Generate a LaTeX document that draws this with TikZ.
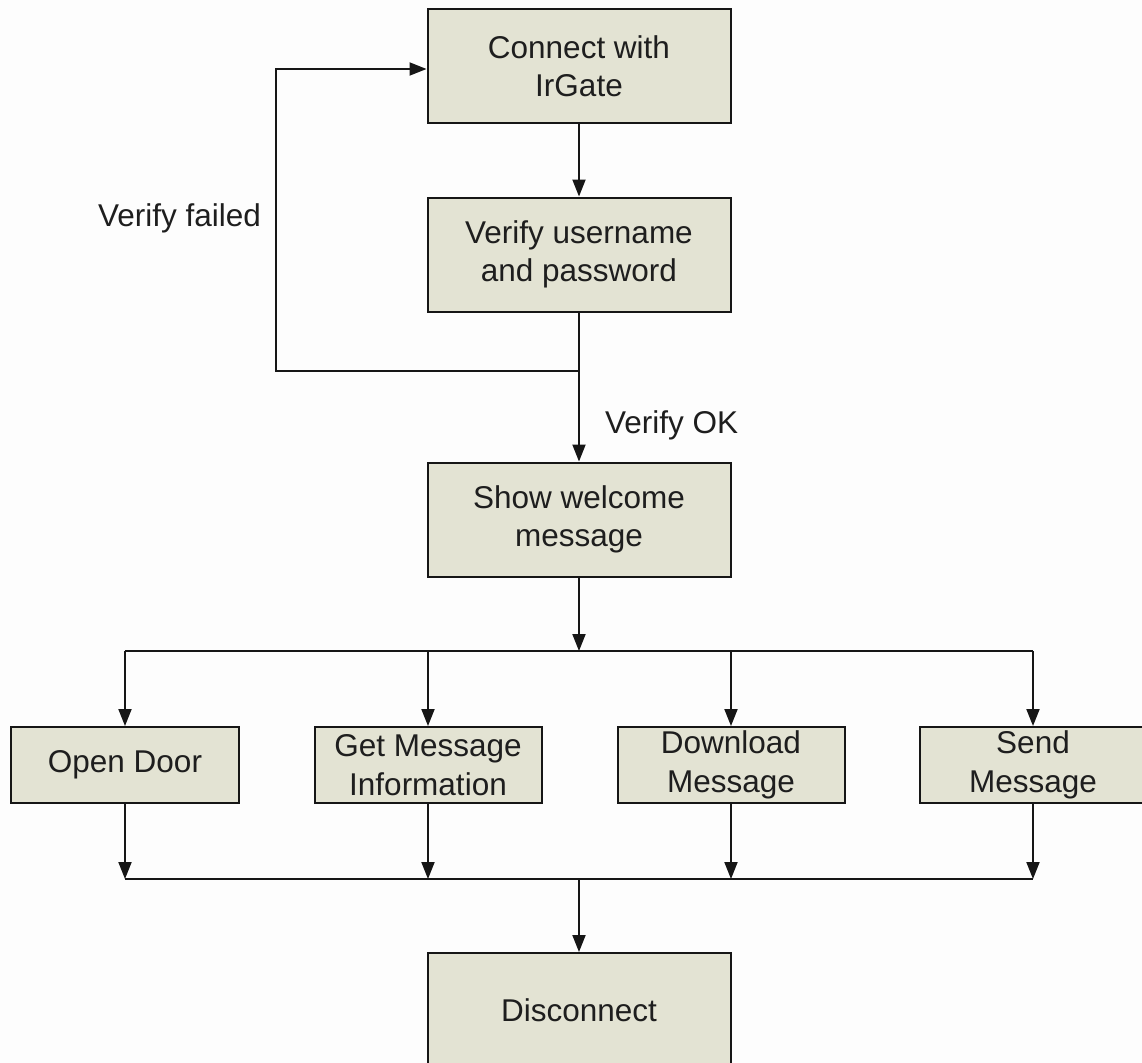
\documentclass[tikz,border=0pt]{standalone}
\usepackage{fontspec}
\setmainfont{Liberation Sans}
\usetikzlibrary{arrows.meta}

\definecolor{boxfill}{RGB}{227,227,211}
\definecolor{linecol}{RGB}{22,22,22}
\definecolor{textcol}{RGB}{30,30,30}
\definecolor{paper}{RGB}{253,253,253}

\tikzset{
  every node/.style={text=textcol, font=\fontsize{31.5bp}{38.5bp}\selectfont},
  stepbox/.style={draw=linecol, line width=2bp, fill=boxfill, align=center,
                  inner sep=0pt},
  bigbox/.style={stepbox, minimum width=303bp, minimum height=114bp},
  smallbox/.style={stepbox, minimum width=227bp, minimum height=76bp},
  flow/.style={draw=linecol, line width=2bp},
  arr/.style={flow, -{Triangle[length=17bp,width=13bp]}},
  lbl/.style={fill=none, inner sep=0pt}
}

\begin{document}
\begin{tikzpicture}[x=1bp, y=-1bp]
  \useasboundingbox (0,0) rectangle (1142,1063);
  \fill[paper] (0,0) rectangle (1142,1063);
  \clip (0,0) rectangle (1142,1063);

  % main column
  \node[bigbox] (connect) at (579,66) {Connect with\\IrGate};
  \node[bigbox] (verify)  at (579,254.5) {Verify username\\and password};
  \node[bigbox] (welcome) at (579,519.5) {Show welcome\\message};

  % actions
  \node[smallbox] (door)     at (125,765) {Open Door};
  \node[smallbox] (info)     at (428,765) {Get Message\\Information};
  \node[smallbox] (download) at (731,765) {Download\\Message};
  \node[smallbox] (send)     at (1033,765) {Send\\Message};

  \node[bigbox] (disconnect) at (579,1010) {Disconnect};

  % junction points
  \coordinate (split)  at (579,371);
  \coordinate (loopB)  at (276,371);
  \coordinate (loopT)  at (276,69);
  \coordinate (fork)   at (579,651);
  \coordinate (forkL)  at (125,651);
  \coordinate (forkR)  at (1033,651);
  \coordinate (join)   at (579,879);
  \coordinate (joinL)  at (125,879);
  \coordinate (joinR)  at (1033,879);

  % connectors
  \draw[arr] (connect.south) -- (verify.north);
  \draw[flow] (verify.south) -- (split);
  \draw[arr] (split) -- (welcome.north);
  \draw[arr] (split) -- (loopB) -- (loopT) -- (loopT -| connect.west);

  \draw[arr] (welcome.south) -- (fork);
  \draw[flow] (forkL) -- (forkR);
  \foreach \b in {door,info,download,send}
    \draw[arr] (fork -| \b.north) -- (\b.north);
  \foreach \b in {door,info,download,send}
    \draw[arr] (\b.south) -- (join -| \b.south);
  \draw[flow] (joinL) -- (joinR);
  \draw[arr] (join) -- (disconnect.north);

  % branch labels
  \node[lbl, anchor=base west] (failed) at (98,226) {Verify failed};
  \node[lbl, anchor=base west] (ok) at (605,433) {Verify OK};
\end{tikzpicture}
\end{document}
